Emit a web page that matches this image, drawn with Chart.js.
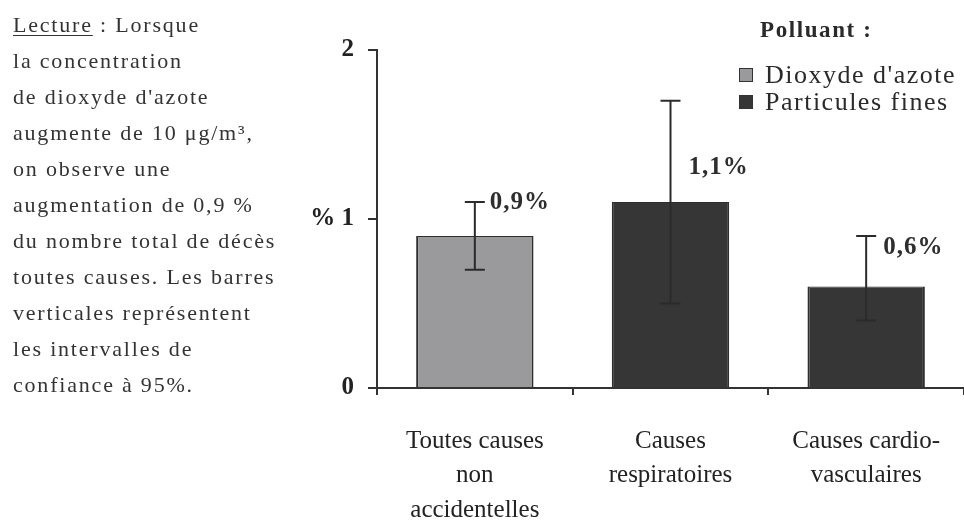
<!DOCTYPE html>
<html lang="fr">
<head>
<meta charset="utf-8">
<script src="https://cdn.jsdelivr.net/npm/chart.js@4/dist/chart.umd.min.js"></script>
<style>
    html, body { margin: 0; padding: 0; background: #fff; }
    body { width: 964px; height: 521px; position: relative; overflow: hidden; font-family: "Liberation Serif", "Times New Roman", serif; }
    #chartBox { position: absolute; left: 0; top: 0; width: 964px; height: 521px; }
    #lecture { position: absolute; left: 13px; top: 7px; font-size: 22px; line-height: 36px; letter-spacing: 1.8px; color: #333; }
    #lecture u { text-decoration-thickness: 1px; text-underline-offset: 3px; }
    #legend { position: absolute; left: 739px; top: 14px; color: #2a2a2a; }
    #legend .title { font-weight: bold; font-size: 23px; letter-spacing: 1.6px; margin-left: 21px; height: 47px; line-height: 32px; }
    #legend .item { font-size: 26px; line-height: 27px; letter-spacing: 1.5px; white-space: nowrap; }
    #legend .box { display: inline-block; width: 12px; height: 12px; border: 1.5px solid #333; margin-right: 12px; vertical-align: 1px; }
</style>
</head>
<body>
<div id="chartBox"><canvas id="chart" width="964" height="521"></canvas></div>
<div id="lecture">
    <u>Lecture</u> : Lorsque<br>
    la concentration<br>
    de dioxyde d'azote<br>
    augmente de 10 μg/m³,<br>
    on observe une<br>
    augmentation de 0,9 %<br>
    du nombre total de décès<br>
    toutes causes. Les barres<br>
    verticales représentent<br>
    les intervalles de<br>
    confiance à 95%.
</div>
<div id="legend"></div>
<script>
const categories = [["Toutes causes", "non", "accidentelles"], ["Causes", "respiratoires"], ["Causes cardio-", "vasculaires"]];
const pollutants = ["Dioxyde d'azote", "Particules fines"];
const pollutantOf = [0, 1, 1];
const values = [0.9, 1.1, 0.6];
const lowCI = [0.7, 0.5, 0.4];
const highCI = [1.1, 1.7, 0.9];
const valueLabels = ["0,9%", "1,1%", "0,6%"];
const yTickLabels = ["0", "% 1", "2"];

const pollutantColors = ["#9a9a9c", "#363636"];
const serif = "'Liberation Serif', 'Times New Roman', serif";
// where each value label sits, relative to the top of its error bar
const labelShift = [{ dx: 15, dy: 0 }, { dx: 18, dy: 67 }, { dx: 17, dy: 12 }];

function buildLegend() {
    const legend = document.getElementById('legend');
    let html = '<div class="title">Polluant :</div>';
    pollutants.forEach(function(name, i) {
        html += '<div class="item"><span class="box" style="background:' + pollutantColors[i] + '"></span>' + name + '</div>';
    });
    legend.innerHTML = html;
}

const errorBars = {
    id: 'errorBars',
    afterDatasetsDraw(chart) {
        const ctx = chart.ctx;
        const y = chart.scales.y;
        const meta = chart.getDatasetMeta(0);
        ctx.save();
        ctx.strokeStyle = '#2b2b2b';
        ctx.lineWidth = 2;
        meta.data.forEach(function(bar, i) {
            const x = bar.x;
            const top = y.getPixelForValue(highCI[i]);
            const bottom = y.getPixelForValue(lowCI[i]);
            ctx.beginPath();
            ctx.moveTo(x, top);
            ctx.lineTo(x, bottom);
            ctx.moveTo(x - 10, top);
            ctx.lineTo(x + 10, top);
            ctx.moveTo(x - 10, bottom);
            ctx.lineTo(x + 10, bottom);
            ctx.stroke();
        });
        ctx.fillStyle = '#2e2e2e';
        ctx.font = 'bold 25px ' + serif;
        ctx.letterSpacing = '1px';
        ctx.textAlign = 'left';
        ctx.textBaseline = 'middle';
        meta.data.forEach(function(bar, i) {
            const top = y.getPixelForValue(highCI[i]);
            ctx.fillText(valueLabels[i], bar.x + labelShift[i].dx, top + labelShift[i].dy);
        });
        ctx.restore();
    }
};

function drawChart() {
    const ctx = document.getElementById('chart').getContext('2d');
    new Chart(ctx, {
        type: 'bar',
        data: {
            labels: categories,
            datasets: [{
                data: values,
                backgroundColor: pollutantOf.map(function(p) { return pollutantColors[p]; }),
                borderColor: '#2e2e2e',
                borderWidth: { left: 2, right: 2, top: 1, bottom: 0 },
                borderSkipped: 'bottom',
                categoryPercentage: 1,
                barPercentage: 0.6
            }]
        },
        options: {
            responsive: false,
            animation: false,
            layout: { padding: { top: 50, right: -2, left: 0, bottom: 0 } },
            plugins: {
                legend: { display: false },
                tooltip: { enabled: false }
            },
            scales: {
                x: {
                    afterFit: function(scale) {
                        scale.height = 133;
                        scale.paddingLeft = 0;
                        scale.paddingRight = 0;
                    },
                    grid: { drawOnChartArea: false, tickLength: 7, color: '#333', lineWidth: 2 },
                    border: { color: '#333', width: 2 },
                    ticks: {
                        color: '#222',
                        padding: 29,
                        maxRotation: 0,
                        font: { family: serif, size: 25, lineHeight: 1.38 }
                    }
                },
                y: {
                    min: 0,
                    max: 2,
                    afterFit: function(scale) { scale.width = 377; },
                    grid: { drawOnChartArea: false, tickLength: 9, color: '#333', lineWidth: 2 },
                    border: { color: '#333', width: 2 },
                    ticks: {
                        stepSize: 1,
                        color: '#222',
                        padding: 14,
                        font: { family: serif, size: 25, weight: 'bold' },
                        callback: function(value, index) { return yTickLabels[index]; }
                    }
                }
            }
        },
        plugins: [errorBars]
    });
}

buildLegend();
drawChart();
</script>
</body>
</html>
